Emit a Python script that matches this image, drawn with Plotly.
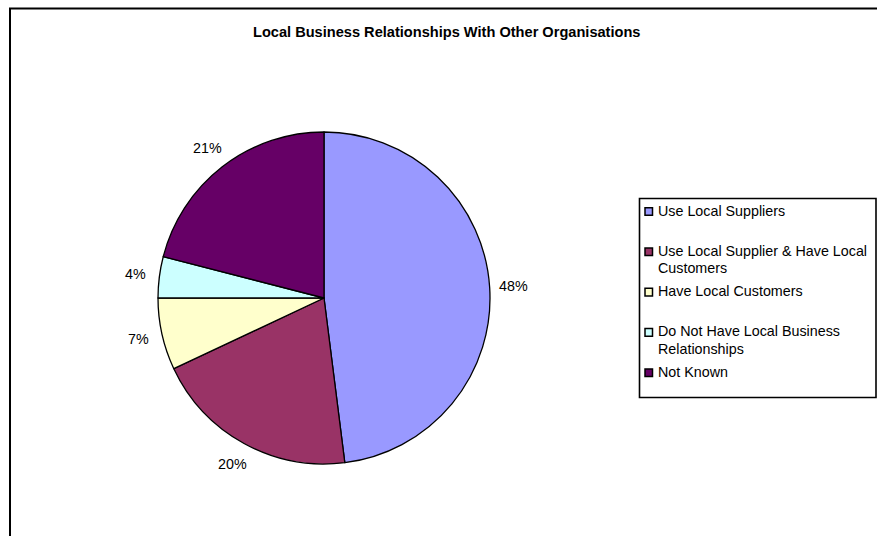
import math
import plotly.graph_objects as go

# Share of local businesses by type of relationship with other organisations
categories = [
    "Use Local Suppliers",
    "Use Local Supplier & Have Local Customers",
    "Have Local Customers",
    "Do Not Have Local Business Relationships",
    "Not Known",
]
legend_lines = [
    ["Use Local Suppliers"],
    ["Use Local Supplier & Have Local", "Customers"],
    ["Have Local Customers"],
    ["Do Not Have Local Business", "Relationships"],
    ["Not Known"],
]
shares = [48, 20, 7, 4, 21]
colors = ["#9999FF", "#993366", "#FFFFCC", "#CCFFFF", "#660066"]

W, H = 877, 536
FONT = "Arial, 'Liberation Sans', sans-serif"

# Pie placement in pixels (centre and radius)
cx, cy, r = 324, 298, 166


def px_x(x):
    return x / W


def px_y(y):
    return 1 - y / H


fig = go.Figure()
fig.add_trace(go.Pie(
    labels=categories,
    values=shares,
    sort=False,
    direction="clockwise",
    rotation=0,
    marker=dict(colors=colors, line=dict(color="black", width=1.3)),
    textinfo="none",
    hoverinfo="label+percent",
    showlegend=False,
    domain=dict(x=[px_x(cx - r), px_x(cx + r)], y=[px_y(cy + r), px_y(cy - r)]),
))

annotations = []
shapes = []

# Percentage labels placed outside each slice along its mid angle
total = sum(shares)
cum = 0
for v in shares:
    mid = (cum + v / 2) / total * 2 * math.pi
    cum += v
    d = r + 24
    lx = cx + d * math.sin(mid)
    ly = cy - d * math.cos(mid)
    annotations.append(dict(
        x=px_x(lx), y=px_y(ly), xref="paper", yref="paper",
        text=f"{round(v / total * 100)}%", showarrow=False,
        xanchor="center", yanchor="middle",
        font=dict(family=FONT, size=14.3, color="black"),
    ))

# Title
annotations.append(dict(
    x=px_x(447), y=px_y(32), xref="paper", yref="paper",
    text="<b>Local Business Relationships With Other Organisations</b>",
    showarrow=False, xanchor="center", yanchor="middle",
    font=dict(family=FONT, size=14.6, color="black"),
))

# Outer chart frame
shapes.append(dict(type="rect", xref="paper", yref="paper",
                   x0=px_x(10), x1=px_x(W + 5), y0=px_y(H + 5), y1=px_y(8.5),
                   line=dict(color="black", width=2), fillcolor="rgba(0,0,0,0)"))

# Legend box with swatches
shapes.append(dict(type="rect", xref="paper", yref="paper",
                   x0=px_x(639.5), x1=px_x(876), y0=px_y(397.5), y1=px_y(198.5),
                   line=dict(color="black", width=1.6), fillcolor="white"))
for i, (lines, col) in enumerate(zip(legend_lines, colors)):
    my = 211.5 + i * 40.3
    shapes.append(dict(type="rect", xref="paper", yref="paper",
                       x0=px_x(645), x1=px_x(652.5), y0=px_y(my + 3.8), y1=px_y(my - 3.8),
                       line=dict(color="black", width=1.5), fillcolor=col))
    for j, line in enumerate(lines):
        annotations.append(dict(
            x=px_x(656), y=px_y(my - 1 + j * 17.3), xref="paper", yref="paper",
            text=line, showarrow=False, xanchor="left", yanchor="middle", align="left",
            font=dict(family=FONT, size=14.3, color="black"),
        ))

fig.update_layout(
    width=W, height=H,
    margin=dict(l=0, r=0, t=0, b=0),
    paper_bgcolor="white",
    plot_bgcolor="white",
    annotations=annotations,
    shapes=shapes,
)

fig.write_html("out.html")
